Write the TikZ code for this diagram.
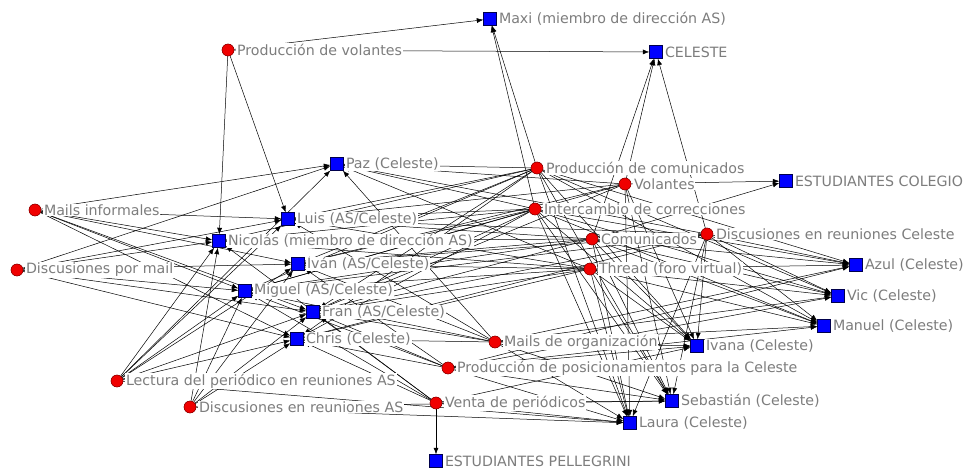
\documentclass[tikz,border=0pt]{standalone}
\usepackage{fontspec}
\setmainfont{DejaVu Sans}
\usetikzlibrary{arrows.meta}
\definecolor{labgray}{RGB}{125,125,125}
\definecolor{evred}{RGB}{240,0,0}
\definecolor{acblue}{RGB}{0,0,255}
\tikzset{
  ev/.style={circle, fill=evred, draw=red!50!black, line width=0.4pt, minimum size=12pt, inner sep=0pt},
  ac/.style={rectangle, fill=acblue, draw=blue!30!black, line width=0.4pt, minimum size=13pt, inner sep=0pt},
  lab/.style={anchor=west, fill=white, inner sep=0.8pt, text=labgray, font=\fontsize{14.2}{16}\selectfont},
  edge/.style={-{Latex[length=6.5pt,width=5pt]}, line width=0.5pt, black}
}
\begin{document}
\begin{tikzpicture}[x=1pt,y=-1pt]
\useasboundingbox (0,0) rectangle (975,468);
% markers
\node[ev] (pvol) at (228,50) {};
\node[ac] (maxi) at (490,19) {};
\node[ac] (celeste) at (656,52) {};
\node[ac] (paz) at (337,164) {};
\node[ev] (pcom) at (537,168) {};
\node[ev] (vol) at (625,184) {};
\node[ac] (ecol) at (786,181) {};
\node[ev] (minf) at (35,210) {};
\node[ac] (luis) at (288,219) {};
\node[ev] (icorr) at (535,209) {};
\node[ac] (nico) at (219,241) {};
\node[ev] (com) at (592,239) {};
\node[ev] (drc) at (707,234) {};
\node[ev] (dmail) at (17,270) {};
\node[ac] (ivan) at (298,264) {};
\node[ev] (thr) at (590,269) {};
\node[ac] (azul) at (856,265) {};
\node[ac] (mig) at (245,291) {};
\node[ac] (vic) at (838,296) {};
\node[ac] (fran) at (313,312) {};
\node[ac] (man) at (824,326) {};
\node[ac] (chris) at (297,339) {};
\node[ev] (morg) at (495,342) {};
\node[ac] (ivana) at (697,346) {};
\node[ev] (ppos) at (448,368) {};
\node[ev] (lect) at (117,381) {};
\node[ac] (seb) at (672,401) {};
\node[ev] (dras) at (190,407) {};
\node[ev] (venta) at (436,403) {};
\node[ac] (laura) at (630,423) {};
\node[ac] (epel) at (436,461) {};
% edges
\foreach \s/\ts in {
  pvol/{maxi,celeste,nico,luis},
  minf/{paz,luis,nico,ivan,mig,fran,chris},
  dmail/{paz,luis,nico,ivan,mig,fran,chris},
  lect/{paz,luis,nico,ivan,mig,fran,chris,laura},
  dras/{nico,mig,ivan,chris,fran,laura,seb},
  pcom/{maxi,paz,luis,nico,ivan,mig,fran,chris,azul,vic,man,ivana,seb,laura},
  vol/{celeste,ecol,paz,luis,ivan,mig,fran,ivana,seb,laura},
  icorr/{maxi,paz,luis,nico,ivan,mig,fran,chris,azul,vic,man,ivana,seb,laura},
  com/{celeste,ecol,luis,nico,ivan,mig,fran,azul,vic,man,ivana,seb,laura},
  drc/{celeste,azul,vic,man,ivana,seb,laura,paz,luis,ivan,fran,chris,mig},
  thr/{paz,luis,nico,ivan,mig,fran,chris,azul,vic,man,ivana,seb,laura},
  morg/{paz,luis,ivan,mig,fran,chris,azul,vic,man,ivana,seb,laura},
  ppos/{mig,fran,chris,ivan,azul,vic,man,ivana,seb,laura},
  venta/{epel,chris,fran,mig,nico,seb,laura,ivana}}
{\foreach \t in \ts {\draw[edge] (\s) -- (\t);}}
% labels
\node[lab] (lpvol) at ([xshift=8pt]pvol.center) {Producción de volantes};
\node[lab] (lmaxi) at ([xshift=8pt]maxi.center) {Maxi (miembro de dirección AS)};
\node[lab] (lceleste) at ([xshift=8pt]celeste.center) {CELESTE};
\node[lab] (lpaz) at ([xshift=8pt]paz.center) {Paz (Celeste)};
\node[lab] (lpcom) at ([xshift=8pt]pcom.center) {Producción de comunicados};
\node[lab] (lvol) at ([xshift=8pt]vol.center) {Volantes};
\node[lab] (lecol) at ([xshift=8pt]ecol.center) {ESTUDIANTES COLEGIO};
\node[lab] (lminf) at ([xshift=8pt]minf.center) {Mails informales};
\node[lab] (lluis) at ([xshift=8pt]luis.center) {Luis (AS/Celeste)};
\node[lab] (licorr) at ([xshift=8pt]icorr.center) {Intercambio de correcciones};
\node[lab] (lnico) at ([xshift=8pt]nico.center) {Nicolás (miembro de dirección AS)};
\node[lab] (lcom) at ([xshift=8pt]com.center) {Comunicados};
\node[lab] (ldrc) at ([xshift=8pt]drc.center) {Discusiones en reuniones Celeste};
\node[lab] (ldmail) at ([xshift=8pt]dmail.center) {Discusiones por mail};
\node[lab] (livan) at ([xshift=8pt]ivan.center) {Iván (AS/Celeste)};
\node[lab] (lthr) at ([xshift=8pt]thr.center) {Thread (foro virtual)};
\node[lab] (lazul) at ([xshift=8pt]azul.center) {Azul (Celeste)};
\node[lab] (lmig) at ([xshift=8pt]mig.center) {Miguel (AS/Celeste)};
\node[lab] (lvic) at ([xshift=8pt]vic.center) {Vic (Celeste)};
\node[lab] (lfran) at ([xshift=8pt]fran.center) {Fran (AS/Celeste)};
\node[lab] (lman) at ([xshift=8pt]man.center) {Manuel (Celeste)};
\node[lab] (lchris) at ([xshift=8pt]chris.center) {Chris (Celeste)};
\node[lab] (lmorg) at ([xshift=8pt]morg.center) {Mails de organización};
\node[lab] (livana) at ([xshift=8pt]ivana.center) {Ivana (Celeste)};
\node[lab] (lppos) at ([xshift=8pt]ppos.center) {Producción de posicionamientos para la Celeste};
\node[lab] (llect) at ([xshift=8pt]lect.center) {Lectura del periódico en reuniones AS};
\node[lab] (lseb) at ([xshift=8pt]seb.center) {Sebastián (Celeste)};
\node[lab] (ldras) at ([xshift=8pt]dras.center) {Discusiones en reuniones AS};
\node[lab] (lventa) at ([xshift=8pt]venta.center) {Venta de periódicos};
\node[lab] (llaura) at ([xshift=8pt]laura.center) {Laura (Celeste)};
\node[lab] (lepel) at ([xshift=8pt]epel.center) {ESTUDIANTES PELLEGRINI};
% markers on top
\foreach \n in {pvol,pcom,vol,minf,icorr,com,drc,dmail,thr,morg,ppos,lect,dras,venta}
  {\fill[evred, draw=red!50!black, line width=0.4pt] (\n.center) circle (6pt);}
\foreach \n in {maxi,celeste,paz,ecol,luis,nico,ivan,azul,mig,vic,fran,man,chris,ivana,seb,laura,epel}
  {\filldraw[fill=acblue, draw=blue!30!black, line width=0.4pt] ([shift={(-6.5pt,-6.5pt)}]\n.center) rectangle ([shift={(6.5pt,6.5pt)}]\n.center);}
\end{tikzpicture}
\end{document}
